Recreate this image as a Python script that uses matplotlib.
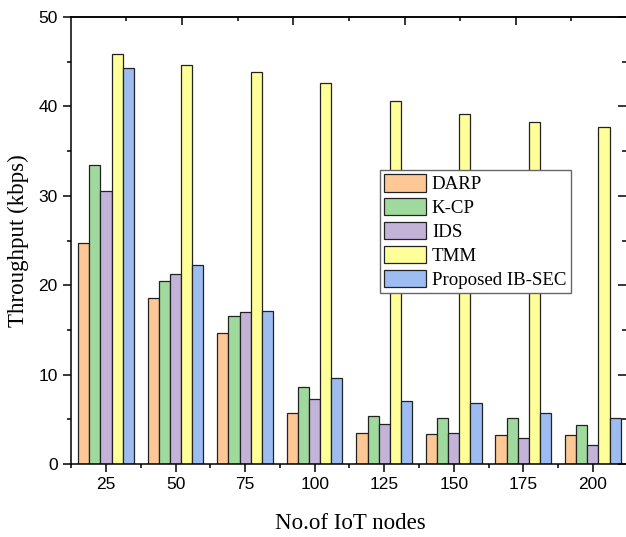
import matplotlib.pyplot as plt
import numpy as np

#data
nodes = [25, 50, 75, 100, 125, 150, 175, 200]
darp = [24.7, 18.6, 14.6, 5.7, 3.5, 3.35, 3.2, 3.2]
kcp = [33.4, 20.5, 16.5, 8.6, 5.4, 5.1, 5.2, 4.4]
ids = [30.5, 21.3, 17.0, 7.3, 4.5, 3.5, 2.9, 2.1]
tmm = [45.9, 44.6, 43.8, 42.6, 40.6, 39.2, 38.3, 37.7]
ibsec = [44.3, 22.3, 17.1, 9.6, 7.1, 6.8, 5.7, 5.1]

labels = ['DARP', 'K-CP', 'IDS', 'TMM', 'Proposed IB-SEC']
colors = ['#FDC896', '#A0D99E', '#C3B3D8', '#FFFF99', '#9DBCF2']
series = [darp, kcp, ids, tmm, ibsec]

serif = 'Liberation Serif'
sans = 'Liberation Sans'

fig = plt.figure(figsize=(6.26, 5.37), dpi=100)
ax = fig.add_axes([71 / 626, 1 - 464 / 537, 558 / 626, 447 / 537])

x = np.array(nodes, dtype=float)
width = 4.0
for i in range(len(series)):
    ax.bar(x + (i - 2) * width, series[i], width, color=colors[i],
           edgecolor='#222222', linewidth=0.9, label=labels[i])

ax.set_xlim(12.4, 213.0)
ax.set_ylim(0, 50)
ax.set_xticks(nodes)
ax.set_xticks([n + 12.5 for n in [0] + nodes], minor=True)
ax.set_yticks(np.arange(0, 51, 10))
ax.set_yticks(np.arange(5, 50, 10), minor=True)

for s in ax.spines.values():
    s.set_linewidth(1.1)
ax.tick_params(axis='both', which='major', direction='out', length=6, width=1.1,
               labelsize=12.5)
ax.tick_params(axis='both', which='minor', direction='out', length=3, width=1.1)
#right side ticks point inwards
ax.tick_params(axis='y', which='both', right=True)
for t in ax.yaxis.get_major_ticks() + ax.yaxis.get_minor_ticks():
    t.tick2line.set_marker(0)
ax.yaxis.get_major_ticks()[0].tick2line.set_markersize(6)
for t in ax.yaxis.get_major_ticks():
    t.tick2line.set_markersize(8)
for t in ax.yaxis.get_minor_ticks():
    t.tick2line.set_markersize(5)
for lab in ax.get_xticklabels() + ax.get_yticklabels():
    lab.set_fontfamily(sans)

#top axis of the original has its own tick spacing
top = ax.secondary_xaxis('top')
top.set_xticks([52.3, 92.3, 132.3, 172.3])
top.set_xticks([32.3, 72.3, 112.3, 152.3, 192.3], minor=True)
top.tick_params(which='major', direction='in', length=6, width=1.1, labelsize=0)
top.tick_params(which='minor', direction='in', length=3, width=1.1)
top.set_xticklabels([])
top.spines['top'].set_linewidth(1.1)

ax.set_xlabel('No.of IoT nodes', fontfamily=serif, fontsize=16.5, labelpad=15)
ax.set_ylabel('Throughput (kbps)', fontfamily=serif, fontsize=16.5, labelpad=7)

leg = ax.legend(loc='upper left', bbox_to_anchor=(0.554, 0.658), borderaxespad=0,
                prop={'family': serif, 'size': 13.6}, fancybox=False,
                edgecolor='#666666', framealpha=1, handlelength=2.2,
                handleheight=1.05, labelspacing=0.25, handletextpad=0.32,
                borderpad=0.22)
leg.get_frame().set_linewidth(1.0)

plt.savefig('out.png', dpi=100)
